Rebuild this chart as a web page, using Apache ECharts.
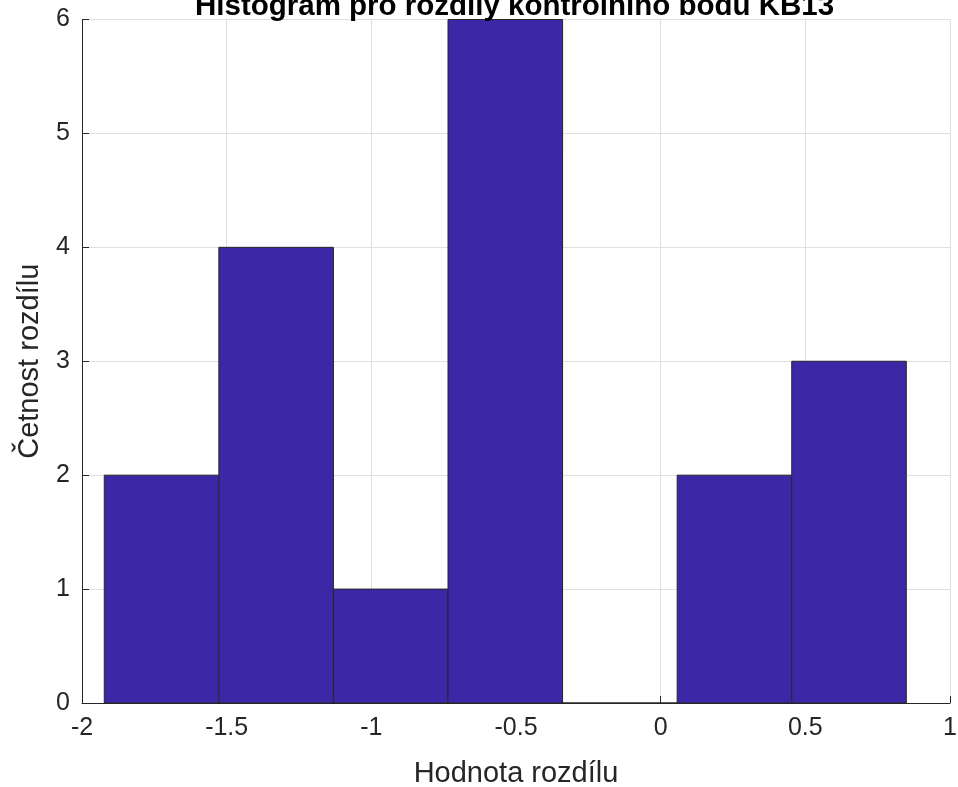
<!DOCTYPE html>
<html>
<head>
<meta charset="utf-8">
<script src="https://cdn.jsdelivr.net/npm/echarts@6/dist/echarts.min.js"></script>
<style>
html,body{margin:0;padding:0;background:#fff;}
#chart{width:958px;height:787px;}
</style>
</head>
<body>
<div id="chart"></div>
<script>
// Data
const binEdges = [-1.923, -1.527, -1.131, -0.735, -0.339, 0.057, 0.453, 0.849];
const binCounts = [2, 4, 1, 6, 0, 2, 3];
const xTicks = [-2, -1.5, -1, -0.5, 0, 0.5, 1];
const yTicks = [0, 1, 2, 3, 4, 5, 6];

const titleText = 'Histogram pro rozdíly kontrolního bodu KB13';
const xName = 'Hodnota rozdílu';
const yName = 'Četnost rozdílu';

const bins = binCounts.map((c, i) => [binEdges[i], binEdges[i + 1], c]);

const FONT = '"Liberation Sans", Arial, Helvetica, sans-serif';
const TXT = '#262626';

const chart = echarts.init(document.getElementById('chart'), null, {renderer: 'canvas'});
chart.setOption({
  animation: false,
  backgroundColor: '#ffffff',
  title: {
    text: titleText,
    left: 190,
    top: -13,
    textStyle: {fontFamily: FONT, fontSize: 29.5, fontWeight: 'bold', color: '#000'}
  },
  grid: {left: 82, right: 8, top: 19.5, bottom: 84, containLabel: false, outerBoundsMode: 'none'},
  xAxis: {
    type: 'value',
    min: xTicks[0], max: xTicks[xTicks.length - 1], interval: 0.5,
    name: xName, nameLocation: 'middle', nameGap: 56,
    nameTextStyle: {fontFamily: FONT, fontSize: 29, color: TXT},
    axisLine: {show: true, onZero: false, lineStyle: {color: TXT, width: 1}},
    axisTick: {show: true, inside: true, length: 7, lineStyle: {color: TXT}},
    axisLabel: {fontFamily: FONT, fontSize: 25, color: TXT, margin: 13,
      formatter: v => String(v)},
    splitLine: {show: true, lineStyle: {color: '#dfdfdf', width: 1}}
  },
  yAxis: {
    type: 'value',
    min: yTicks[0], max: yTicks[yTicks.length - 1], interval: 1,
    name: yName, nameLocation: 'middle', nameGap: 38,
    nameTextStyle: {fontFamily: FONT, fontSize: 29, color: TXT},
    axisLine: {show: true, onZero: false, lineStyle: {color: TXT, width: 1}},
    axisTick: {show: true, inside: true, length: 7, lineStyle: {color: TXT}},
    axisLabel: {fontFamily: FONT, fontSize: 25, color: TXT, margin: 12},
    splitLine: {show: true, lineStyle: {color: '#dfdfdf', width: 1}}
  },
  series: [{
    type: 'custom',
    data: bins,
    encode: {x: [0, 1], y: 2},
    renderItem: function (params, api) {
      const p0 = api.coord([api.value(0), api.value(2)]);
      const p1 = api.coord([api.value(1), 0]);
      return {
        type: 'rect',
        shape: {x: p0[0], y: p0[1], width: p1[0] - p0[0], height: p1[1] - p0[1]},
        style: {fill: '#3c28a6', stroke: '#262626', lineWidth: 1}
      };
    }
  }]
});
</script>
</body>
</html>
